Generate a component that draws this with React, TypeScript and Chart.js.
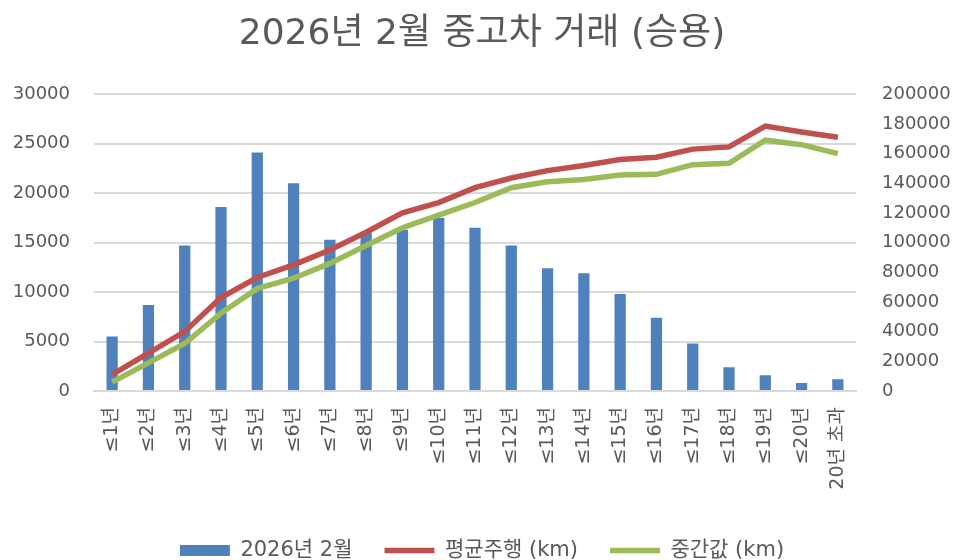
import React, { useEffect, useRef } from "react";
import { Chart, registerables } from "chart.js";

Chart.register(...registerables);

const categories = [
  "≤1년", "≤2년", "≤3년", "≤4년", "≤5년", "≤6년", "≤7년", "≤8년", "≤9년", "≤10년",
  "≤11년", "≤12년", "≤13년", "≤14년", "≤15년", "≤16년", "≤17년", "≤18년", "≤19년", "≤20년", "20년 초과",
];

const transactions = [
  5500, 8700, 14700, 18600, 24100, 21000, 15300, 16000, 16300, 17500,
  16500, 14700, 12400, 11900, 9800, 7400, 4800, 2400, 1600, 800, 1200,
];

const avgMileage = [
  11000, 25500, 40000, 63000, 76500, 85000, 95000, 107000, 120000, 127000,
  137000, 143500, 148500, 152000, 156000, 157500, 163000, 164500, 178500, 174500, 171000,
];

const medianMileage = [
  6000, 19000, 32000, 52500, 69000, 76000, 86000, 98000, 110000, 118500,
  127000, 137000, 141000, 142500, 145500, 146000, 152500, 153500, 169000, 166000, 160000,
];

const leftTicks = { min: 0, max: 30000, step: 5000 };
const rightTicks = { min: 0, max: 200000, step: 20000 };

const FONT = "'DejaVu Sans', 'Noto Sans CJK KR', sans-serif";
const TEXT = "#595959";

export default function App() {
  const ref = useRef<HTMLCanvasElement | null>(null);

  useEffect(() => {
    if (!ref.current) return;
    const chart = new Chart(ref.current, {
      type: "bar",
      data: {
        labels: categories,
        datasets: [
          {
            type: "line",
            label: "평균주행 (km)",
            data: avgMileage,
            yAxisID: "y1",
            borderColor: "#c0504d",
            backgroundColor: "#c0504d",
            borderWidth: 5.5,
            pointRadius: 0,
            tension: 0,
            order: 1,
          },
          {
            type: "line",
            label: "중간값 (km)",
            data: medianMileage,
            yAxisID: "y1",
            borderColor: "#9bbb59",
            backgroundColor: "#9bbb59",
            borderWidth: 5.5,
            pointRadius: 0,
            tension: 0,
            order: 2,
          },
          {
            type: "bar",
            label: "2026년 2월",
            data: transactions,
            yAxisID: "y",
            backgroundColor: "#4f81bd",
            borderWidth: 0,
            barPercentage: 0.31,
            categoryPercentage: 1,
            order: 3,
          },
        ],
      },
      options: {
        responsive: false,
        animation: false,
        layout: { padding: { left: 13, right: 6, top: 0, bottom: -11 } },
        plugins: {
          title: {
            display: true,
            text: "2026년 2월 중고차 거래 (승용)",
            color: TEXT,
            font: { family: FONT, size: 36, weight: "normal" },
            padding: { top: 13, bottom: 38 },
          },
          legend: {
            position: "bottom",
            labels: {
              color: TEXT,
              font: { family: FONT, size: 21 },
              usePointStyle: true,
              pointStyleWidth: 50,
              boxHeight: 11,
              padding: 32,
              generateLabels: (c) => {
                const ds = c.data.datasets as any[];
                const order = [2, 0, 1];
                return order.map((i) => {
                  const d = ds[i];
                  const isBar = d.type === "bar";
                  return {
                    text: d.label,
                    fillStyle: isBar ? "#4f81bd" : d.borderColor,
                    strokeStyle: isBar ? "#4f81bd" : d.borderColor,
                    lineWidth: isBar ? 0 : 5.5,
                    pointStyle: isBar ? "rect" : "line",
                    fontColor: TEXT,
                    datasetIndex: i,
                    hidden: false,
                  };
                });
              },
            },
          },
          tooltip: { enabled: false },
        },
        scales: {
          x: {
            offset: true,
            grid: { display: false, drawTicks: false },
            border: { color: "#d9d9d9", width: 2 },
            ticks: {
              color: TEXT,
              font: { family: FONT, size: 19 },
              minRotation: 90,
              maxRotation: 90,
              padding: 16,
              autoSkip: false,
            },
            afterFit: (scale: any) => {
              scale.height = 117;
            },
          },
          y: {
            position: "left",
            min: leftTicks.min,
            max: leftTicks.max,
            grid: { color: "#d9d9d9", lineWidth: 2, drawTicks: false },
            border: { display: false },
            ticks: {
              stepSize: leftTicks.step,
              color: TEXT,
              font: { family: FONT, size: 18 },
              padding: 24,
              callback: (v) => String(v),
            },
            afterFit: (scale: any) => {
              scale.width = 81;
            },
          },
          y1: {
            position: "right",
            min: rightTicks.min,
            max: rightTicks.max,
            grid: { display: false, drawTicks: false },
            border: { display: false },
            ticks: {
              stepSize: rightTicks.step,
              color: TEXT,
              font: { family: FONT, size: 18 },
              padding: 26,
              callback: (v) => String(v),
            },
            afterFit: (scale: any) => {
              scale.width = 95;
            },
          },
        },
      },
    });
    return () => chart.destroy();
  }, []);

  return (
    <div style={{ position: "fixed", left: 0, top: 0, width: 957, height: 560, background: "#fff" }}>
      <canvas ref={ref} width={957} height={560} style={{ display: "block" }} />
    </div>
  );
}
